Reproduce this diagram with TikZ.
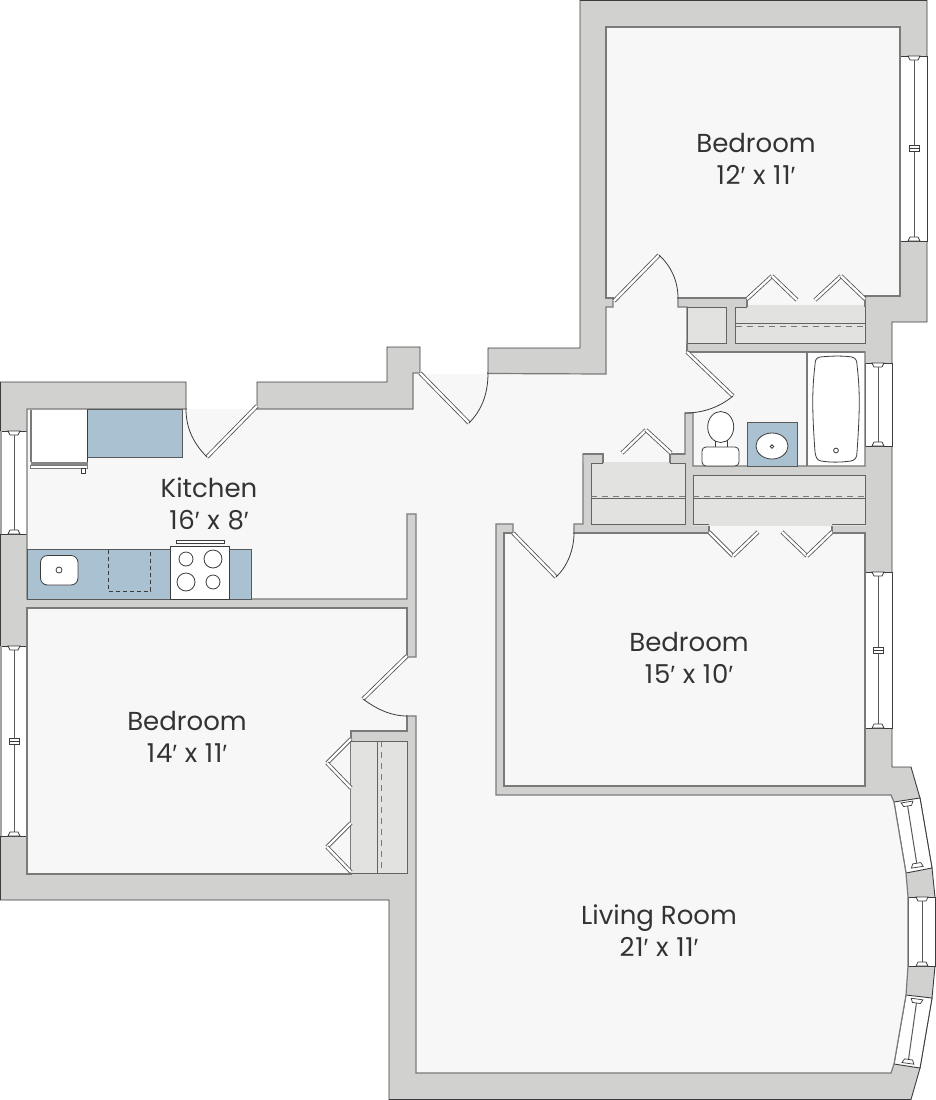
\documentclass[tikz,border=0pt]{standalone}
\usepackage{fontspec}
\setmainfont{Poppins}
\newfontfamily\numfont[LetterSpace=3]{Poppins}
\newfontfamily\primefont{Liberation Sans}
\newcommand\ft{{\primefont\fontsize{25}{32}\selectfont ′}}
\definecolor{wallc}{HTML}{D1D1D0}
\definecolor{floorc}{HTML}{F7F7F7}
\definecolor{closetc}{HTML}{E2E2E0}
\definecolor{bluec}{HTML}{AAC1D1}
\definecolor{edgec}{HTML}{7A7A7A}
\definecolor{darkc}{HTML}{3C3C3C}
\definecolor{textc}{HTML}{333333}
\tikzset{
  wallshape/.style={fill=wallc,draw=darkc,line width=0.9pt,line join=miter},
  floorshape/.style={fill=floorc,draw=edgec,line width=1.2pt,line join=miter},
  gapcover/.style={fill=floorc,draw=none},
  closetfill/.style={fill=closetc,draw=none},
  closetline/.style={draw=darkc!80!white,line width=1pt},
  shelfdash/.style={draw=edgec,line width=1pt,dash pattern=on 6pt off 5pt},
  glass/.style={fill=white,draw=darkc,line width=0.9pt},
  fixture/.style={fill=white,draw=darkc,line width=0.8pt},
  counter/.style={fill=bluec,draw=darkc!85!white,line width=0.8pt},
  swing/.style={draw=darkc,line width=0.8pt},
  roomlabel/.style={font=\fontsize{26}{32}\selectfont,text=textc,align=center,inner sep=0pt},
}
\newcommand\leafbar[4]{%
  \draw[darkc!90!white,line width=4pt] (#1,#2) -- (#3,#4);
  \draw[white,line width=2.4pt] (#1,#2) -- (#3,#4);}
\newcommand\bifold[6]{\leafbar{#1}{#2}{#3}{#4}\leafbar{#3}{#4}{#5}{#6}}
% centre line of a window: x, y, length, angle
\newcommand\glazing[4]{%
  \begin{scope}[shift={(#1,#2)},rotate=#4]
    \draw[darkc!85!white,line width=1pt] (0,0) -- (0,#3);
    \draw[fill=white,draw=darkc,line width=0.7pt] (-6,0) -- (6,0) -- (4,4) -- (-4,4) -- cycle;
    \draw[fill=white,draw=darkc,line width=0.7pt] (-6,#3) -- (6,#3) -- (4,#3-4) -- (-4,#3-4) -- cycle;
  \end{scope}}
\newcommand\mullion[2]{%
  \draw[fill=white,draw=darkc,line width=0.8pt] (#1-5,#2-3) rectangle (#1+5,#2+3);
  \draw[darkc,line width=1pt] (#1-5,#2) -- (#1+5,#2);}
\begin{document}
\begin{tikzpicture}[x=1pt,y=-1pt]
\useasboundingbox (0,0) rectangle (936,1100);
% walls
\path[wallshape] (0.5,382) -- (186,382) -- (186,409) -- (257,409) -- (257,382) -- (387,382) -- (387,347) -- (420,347) -- (420,373) -- (488,373) -- (488,348) -- (580,348) -- (580,0.5) -- (927,0.5) -- (927,322) -- (892,322) -- (892,767) -- (911,767) -- (920,798) -- (932,868) -- (935,897) -- (935,966) -- (932,998) -- (920,1068) -- (911,1099.5) -- (389,1099.5) -- (389,900) -- (0.5,900) -- cycle;
% windows
\path[glass] (900,56) rectangle (927,241);
\path[glass] (865,363) rectangle (892,446);
\path[glass] (865,572) rectangle (892,728);
\path[glass] (0.5,431) rectangle (27,534);
\path[glass] (0.5,646) rectangle (27,836);
\path[glass] (894,802) -- (920,798) -- (932,868) -- (906,873) -- cycle;
\path[glass] (908,897) -- (935,897) -- (935,966) -- (908,966) -- cycle;
\path[glass] (906,995) -- (932,998) -- (920,1068) -- (894,1064) -- cycle;
\draw[edgec!70!white,line width=2pt] (1,431) -- (1,534) (1,646) -- (1,836);
\glazing{914}{56}{185}{0}
\mullion{914}{148}
\glazing{878}{363}{83}{0}
\glazing{878}{572}{156}{0}
\mullion{878}{650}
\glazing{14}{431}{103}{0}
\glazing{14}{646}{190}{0}
\mullion{14}{741}
\glazing{907}{802}{66}{9}
\glazing{922}{897}{69}{0}
\glazing{917}{999}{65}{-8}
% floors
\path[floorshape] (27,409) -- (413,409) -- (413,373) -- (420,373) -- (488,373.5) -- (606,374) -- (606,307) -- (613,307) -- (613,298) -- (678,298) -- (678,307) -- (687,307) -- (687,352) -- (865,352) -- (865,466) -- (693,466) -- (693,413) -- (685,413) -- (685,454) -- (670,454) -- (670,463) -- (603,463) -- (603,454) -- (583,454) -- (583,524) -- (574,524) -- (574,533) -- (513,533) -- (513,524) -- (496,524) -- (496,795) -- (891,795) -- (894,802) -- (906,873) -- (908,897) -- (908,966) -- (906,995) -- (894,1064) -- (891,1073) -- (416,1073) -- (416,716) -- (407,716) -- (407,657) -- (416,657) -- (416,514) -- (407,514) -- (407,599) -- (27,599) -- cycle;
\path[floorshape] (606,27) -- (900,27) -- (900,296) -- (865,296) -- (865,307) -- (747,307) -- (747,298) -- (606,298) -- cycle;
\path[floorshape] (504,533) -- (709,533) -- (709,524) -- (832,524) -- (832,533) -- (865,533) -- (865,786) -- (504,786) -- cycle;
\path[floorshape] (27,608) -- (407,608) -- (407,731) -- (351,731) -- (351,874) -- (27,874) -- cycle;
% door openings: outside white above the floor edge
\fill[white] (186.6,383) rectangle (256.4,409);
\path[gapcover] (186.6,409) rectangle (256.4,412);
\path[gapcover] (421,373.5) rectangle (487,377);
\fill[white] (421,372) rectangle (487,373.5);
\path[gapcover] (614,295) rectangle (677,301);
\path[gapcover] (514,530) rectangle (573,536);
\path[gapcover] (404,658) rectangle (410,715);
% closets
\path[closetfill] (735,307) rectangle (865,343);
\path[closetfill] (747.6,305) rectangle (864.4,308);
\draw[closetline] (735,307) -- (735,343) -- (865,343) -- (865,307);
\draw[closetline] (735,307) -- (747,307);
\draw[closetline] (735,323) -- (865,323);
\draw[shelfdash] (736,326) -- (865,326);
\path[closetfill,draw=darkc!80!white,line width=1pt] (687,307) rectangle (726,343);
\draw[edgec,line width=1.2pt] (687,343) -- (687,352) -- (865,352);
\path[closetfill] (591,461.5) rectangle (685,524);
\path[wallshape,draw=none] (583.6,454.6) rectangle (603,463) (670,454.6) rectangle (685,463);
\draw[closetline] (603,463) -- (591,463) -- (591,524) -- (685,524) -- (685,463) -- (670,463);
\draw[edgec,line width=1.2pt] (603,463) -- (603,454) -- (583,454) (670,463) -- (670,454) -- (685,454);
\draw[closetline] (591,498) -- (685,498);
\draw[shelfdash] (591,496) -- (685,496);
\path[closetfill] (693,475) rectangle (865,526);
\draw[closetline] (709,524) -- (693,524) -- (693,475) -- (865,475) -- (865,524) -- (832,524);
\draw[closetline,line width=1.2pt] (693,498.5) -- (865,498.5);
\draw[shelfdash] (693,496) -- (865,496);
\path[closetfill] (351,741) rectangle (407,873);
\draw[closetline] (351,741) -- (407,741) -- (407,873) -- (351,873);
\draw[closetline] (377.5,741) -- (377.5,873);
\draw[shelfdash] (381,741) -- (381,873);
% bathroom
\fill[white] (808,353) rectangle (864.4,465.4);
\draw[edgec,line width=2pt] (807,352) -- (807,466);
\draw[fixture] (820,357) .. controls (835,355.5) and (845,356) .. (852,357) .. controls (856,358) and (857,361) .. (857,365) .. controls (860,390) and (860,410) .. (857,452) .. controls (857,458) and (855,460) .. (851,461) .. controls (840,462.5) and (830,462.5) .. (821,461) .. controls (817,460) and (816,458) .. (815,452) .. controls (812,410) and (812,390) .. (815,365) .. controls (815,360) and (816,358) .. (820,357) -- cycle;
\draw[fixture] (836,450.5) circle (2.4);
\path[fixture] (715,440) rectangle (727,448);
\draw[fixture] (720.7,427) ellipse (13 and 15.5);
\path[fixture,rounded corners=4pt] (702,447) rectangle (739,466);
\path[counter] (747,422) rectangle (797,466);
\draw[fixture] (772,446) ellipse (16 and 13);
\draw[fixture] (772,446.5) circle (1.8);
% kitchen
\path[counter] (87,409.5) rectangle (182,457);
\fill[white] (31,409.5) rectangle (87,462);
\draw[edgec,line width=1.4pt] (31,409.5) -- (31,462);
\fill[edgec!90!white] (30.5,461.5) rectangle (87.5,465);
\draw[edgec,line width=0.8pt,fill=white] (30.5,465) rectangle (87.5,468);
\draw[darkc,line width=0.8pt] (87,409.5) -- (87,462);
\draw[fixture] (81.5,468) rectangle (85,473);
\path[counter] (27.5,549) rectangle (251,599);
\path[fixture,rounded corners=7pt] (40.5,555.5) rectangle (78,585);
\draw[fixture] (59,570) circle (3);
\draw[darkc,line width=0.8pt,dash pattern=on 4pt off 3pt] (108,549.5) -- (108,591) -- (150.5,591) -- (150.5,549.5);
\path[fixture] (170,546) rectangle (229,599);
\path[fixture] (176,540.5) rectangle (224,543.5);
\draw[fixture] (186,559) circle (7);
\draw[fixture] (213,559) circle (9);
\draw[fixture] (186,582) circle (9);
\draw[fixture] (213,582) circle (7);
% doors
\leafbar{257}{406}{207}{457}
\draw[swing] (207,457) .. controls (195,445) and (186,430) .. (186,409);
\leafbar{420}{373}{469}{423}
\draw[swing] (469,423) .. controls (481,411) and (488,395) .. (488,373);
\leafbar{614}{301}{659}{255}
\draw[swing] (659,255) .. controls (671,266) and (678,281) .. (678,298);
\leafbar{687}{352}{733}{396}
\draw[swing] (733,396) .. controls (721,406) and (705,413) .. (685,413);
\leafbar{513}{533}{556}{577}
\draw[swing] (556,577) .. controls (567,567) and (574,550) .. (574,533);
\leafbar{407}{656}{363}{699}
\draw[swing] (363,699) .. controls (375,708) and (390,716) .. (407,716);
\bifold{747}{299}{772}{276}{797}{300}
\bifold{815}{300}{841}{276}{865}{299}
\bifold{622}{453}{646}{430}{671}{453}
\bifold{709}{532}{733}{556}{758}{532}
\bifold{782}{532}{807}{556}{832}{532}
\bifold{351}{739}{327}{763}{351}{788}
\bifold{351}{823}{327}{847}{351}{872}
% labels
\node[roomlabel] (lbTopBed) at (756,159) {Bedroom\\{\numfont 12\ft{} x 11\ft}};
\node[roomlabel] (lbKitchen) at (209,504) {Kitchen\\{\numfont 16\ft{} x 8\ft}};
\node[roomlabel] (lbMidBed) at (689,658) {Bedroom\\{\numfont 15\ft{} x 10\ft}};
\node[roomlabel] (lbLeftBed) at (187,737) {Bedroom\\{\numfont 14\ft{} x 11\ft}};
\node[roomlabel] (lbLiving) at (659,931) {Living Room\\{\numfont 21\ft{} x 11\ft}};
\end{tikzpicture}
\end{document}
